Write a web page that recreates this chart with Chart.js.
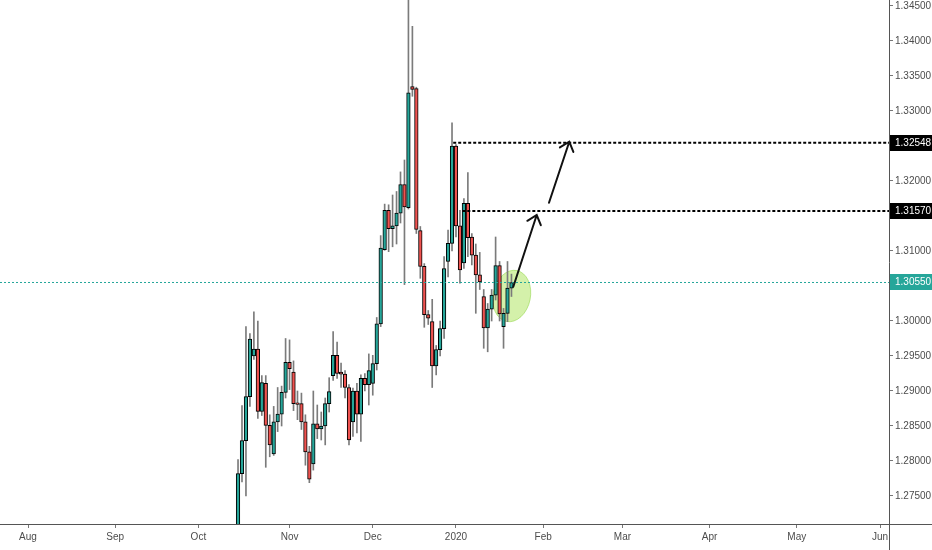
<!DOCTYPE html>
<html>
<head>
<meta charset="utf-8">
<script src="https://cdn.jsdelivr.net/npm/chart.js@4.4.1/dist/chart.umd.min.js"></script>
<style>
html,body{margin:0;padding:0;background:#fff}
#wrap{width:932px;height:550px;position:relative}
</style>
</head>
<body>
<div id="wrap"><canvas id="chart"></canvas></div>
<script>
// GBPUSD daily, bar index counted in trading days from 1 Aug 2019
const firstBar=53; // 15 Oct 2019

const opens=[1.2610,1.2782,1.2829,1.2892,1.2950,1.2960,1.2871,1.2911,1.2851,1.2810,
  1.2856,1.2867,1.2898,1.2941,1.2927,1.2882,1.2882,1.2856,1.2813,1.2796,
  1.2853,1.2846,1.2850,1.2882,1.2922,1.2951,1.2927,1.2924,1.2905,1.2856,
  1.2900,1.2867,1.2918,1.2909,1.2911,1.2939,1.2996,1.3102,1.3158,1.3132,
  1.3136,1.3154,1.3195,1.3162,1.3335,1.3332,1.3129,1.3078,1.3009,1.2999,
  1.2936,1.2959,1.2989,1.3085,1.3111,1.3250,1.3136,1.3083,1.3168,1.3120,
  1.3094,1.3066,1.3035,1.2990,1.3017,1.3037,1.3079,1.2992,1.3011,1.3047];
const highs=[1.2802,1.2879,1.2992,1.2982,1.3013,1.3000,1.2922,1.2922,1.2866,1.2878,
  1.2905,1.2907,1.2975,1.2973,1.2943,1.2900,1.2897,1.2866,1.2821,1.2900,
  1.2880,1.2870,1.2890,1.2919,1.2985,1.2970,1.2940,1.2929,1.2909,1.2904,
  1.2911,1.2923,1.2925,1.2953,1.2951,1.3005,1.3122,1.3167,1.3166,1.3180,
  1.3185,1.3213,1.3230,1.3514,1.3421,1.3334,1.3135,1.3082,1.3015,1.3031,
  1.2965,1.3000,1.3092,1.3130,1.3283,1.3252,1.3158,1.3175,1.3212,1.3125,
  1.3110,1.3098,1.3045,1.3025,1.3045,1.3120,1.3085,1.3018,1.3085,1.3067];
const lows=[1.2595,1.2770,1.2750,1.2878,1.2945,1.2861,1.2865,1.2791,1.2806,1.2808,
  1.2842,1.2850,1.2890,1.2902,1.2872,1.2859,1.2845,1.2794,1.2769,1.2787,
  1.2832,1.2830,1.2823,1.2870,1.2915,1.2918,1.2905,1.2890,1.2823,1.2835,
  1.2840,1.2828,1.2900,1.2880,1.2894,1.2930,1.2992,1.3101,1.3099,1.3106,
  1.3110,1.3140,1.3052,1.3160,1.3321,1.3125,1.3061,1.2991,1.2995,1.2905,
  1.2923,1.2950,1.2975,1.3063,1.3100,1.3120,1.3054,1.3075,1.3092,1.3080,
  1.3011,1.3045,1.2961,1.2956,1.3000,1.3030,1.3000,1.2961,1.2999,1.3035];
const closes=[1.2782,1.2829,1.2892,1.2974,1.2960,1.2871,1.2912,1.2851,1.2823,1.2856,
  1.2867,1.2898,1.2941,1.2932,1.2882,1.2881,1.2856,1.2813,1.2774,1.2853,
  1.2846,1.2850,1.2882,1.2899,1.2951,1.2925,1.2924,1.2905,1.2830,1.2900,
  1.2867,1.2918,1.2909,1.2929,1.2939,1.2996,1.3104,1.3158,1.3132,1.3136,
  1.3154,1.3195,1.3163,1.3326,1.3331,1.3131,1.3078,1.3009,1.3004,1.2936,
  1.2959,1.2989,1.3075,1.3111,1.3250,1.3136,1.3073,1.3168,1.3119,1.3094,
  1.3066,1.3056,1.2990,1.3017,1.3037,1.3079,1.3010,1.3011,1.3047,1.3055];

// month ticks (first trading day of each month)
const monthBars=[0,22,43,66,87,108,130,150,172,194,215];
const monthLabels=['Aug','Sep','Oct','Nov','Dec','2020','Feb','Mar','Apr','May','Jun'];

// drawn levels: value + bar where the line starts
const levelValues=[1.32548,1.31570];
const levelStarts=[107.3,109.6];
const lastPrice=1.30550;

// annotations in bar/price units
const arrows=[[122.46,1.30490,128.37,1.31514],[131.47,1.31690,136.59,1.32561]];
const zone=[122.06,1.30357,4.72,0.00371];

const X_MIN=-7.066,X_MAX=217.27,Y_MIN=1.2710,Y_MAX=1.345857;

const GREEN='#26a69a',RED='#ef5350',WICK='#7b7b7b',TXT='#4c4c4c';
const FONT="'Liberation Sans',Arial,sans-serif";

const bodies=opens.map((o,i)=>({x:firstBar+i,y:[o,closes[i]]}));
const wicks=opens.map((o,i)=>({x:firstBar+i,y:[lows[i],highs[i]]}));
const bodyColors=opens.map((o,i)=>closes[i]>=o?GREEN:RED);

const levelSets=levelValues.map((v,i)=>({
  type:'line',order:0,
  data:[{x:levelStarts[i],y:v},{x:X_MAX,y:v}],
  borderColor:'#000',borderWidth:2,borderDash:[3,2],
  pointRadius:0,fill:false
}));

const overlay={
  id:'overlay',
  beforeDatasetsDraw(chart){
    const{ctx,scales:{x,y}}=chart;
    const cx=x.getPixelForValue(zone[0]),cy=y.getPixelForValue(zone[1]);
    const rx=x.getPixelForValue(zone[0]+zone[2])-cx;
    const ry=cy-y.getPixelForValue(zone[1]+zone[3]);
    ctx.save();
    ctx.beginPath();ctx.ellipse(cx,cy,rx,ry,0.2,0,Math.PI*2);
    ctx.fillStyle='rgba(176,230,100,0.55)';ctx.fill();
    ctx.strokeStyle='rgba(150,215,80,0.6)';ctx.lineWidth=1;ctx.stroke();
    ctx.restore();
  },
  afterDatasetsDraw(chart){
    const{ctx,scales:{x,y}}=chart;
    ctx.save();
    ctx.strokeStyle='#111';ctx.lineWidth=2;ctx.lineCap='round';
    arrows.forEach(a=>{
      const x1=x.getPixelForValue(a[0]),y1=y.getPixelForValue(a[1]);
      const x2=x.getPixelForValue(a[2]),y2=y.getPixelForValue(a[3]);
      const ang=Math.atan2(y1-y2,x1-x2),L=11;
      ctx.beginPath();ctx.moveTo(x1,y1);ctx.lineTo(x2,y2);
      ctx.moveTo(x2+L*Math.cos(ang+0.7),y2+L*Math.sin(ang+0.7));
      ctx.lineTo(x2,y2);
      ctx.lineTo(x2+L*Math.cos(ang-0.7),y2+L*Math.sin(ang-0.7));
      ctx.stroke();
    });
    ctx.restore();
  },
  afterDraw(chart){
    const{ctx,chartArea:ca,scales:{y}}=chart;
    const W=chart.width,H=chart.height;
    ctx.save();
    // axis lines run out to the canvas edges
    ctx.strokeStyle='#555';ctx.lineWidth=1;
    ctx.beginPath();
    ctx.moveTo(ca.right,ca.bottom+0.5);ctx.lineTo(W,ca.bottom+0.5);
    ctx.moveTo(ca.right+0.5,ca.bottom);ctx.lineTo(ca.right+0.5,H);
    ctx.stroke();
    // price labels on the scale
    const tags=levelValues.map(v=>[v,'#000']).concat([[lastPrice,GREEN]]);
    ctx.font='10px '+FONT;ctx.textBaseline='middle';ctx.textAlign='left';
    tags.forEach(([v,c])=>{
      const py=Math.round(y.getPixelForValue(v));
      ctx.fillStyle=c;ctx.fillRect(ca.right+1,py-8,W-ca.right-1,16);
      ctx.fillStyle='#fff';ctx.fillText(v.toFixed(5),ca.right+6,py+0.5);
    });
    ctx.restore();
  }
};

new Chart(document.getElementById('chart'),{
  type:'bar',
  plugins:[overlay],
  data:{
    datasets:[
      ...levelSets,
      {
        type:'line',order:0,
        data:[{x:X_MIN,y:lastPrice},{x:X_MAX,y:lastPrice}],
        borderColor:GREEN,borderWidth:1,borderDash:[2,2],pointRadius:0,fill:false
      },
      {
        order:1,grouped:false,data:bodies,
        backgroundColor:bodyColors,borderColor:'#000',borderWidth:1,
        borderSkipped:false,barThickness:3.6,minBarLength:1.5
      },
      {
        order:2,grouped:false,data:wicks,
        backgroundColor:WICK,borderWidth:0,barThickness:1
      }
    ]
  },
  options:{
    responsive:true,maintainAspectRatio:false,animation:false,
    layout:{padding:0,autoPadding:false},
    plugins:{legend:{display:false},tooltip:{enabled:false}},
    scales:{
      x:{
        type:'linear',min:X_MIN,max:X_MAX,offset:false,
        afterBuildTicks:s=>{s.ticks=monthBars.map(v=>({value:v}));},
        afterFit:s=>{s.height=26;s.paddingLeft=0;s.paddingRight=0;},
        ticks:{autoSkip:false,maxRotation:0,padding:3,color:TXT,
          font:{family:FONT,size:10},
          callback:(v,i)=>monthLabels[i]},
        grid:{drawOnChartArea:false,offset:false,tickLength:4,color:'#777'},
        border:{color:'#555',width:1}
      },
      y:{
        position:'right',min:Y_MIN,max:Y_MAX,
        afterFit:s=>{s.width=43;s.paddingTop=0;s.paddingBottom=0;},
        ticks:{stepSize:0.005,includeBounds:false,padding:2,color:TXT,
          font:{family:FONT,size:10},
          callback:v=>v.toFixed(5)},
        grid:{drawOnChartArea:false,tickLength:4,color:'#777'},
        border:{color:'#555',width:1}
      }
    }
  }
});
</script>
</body>
</html>
